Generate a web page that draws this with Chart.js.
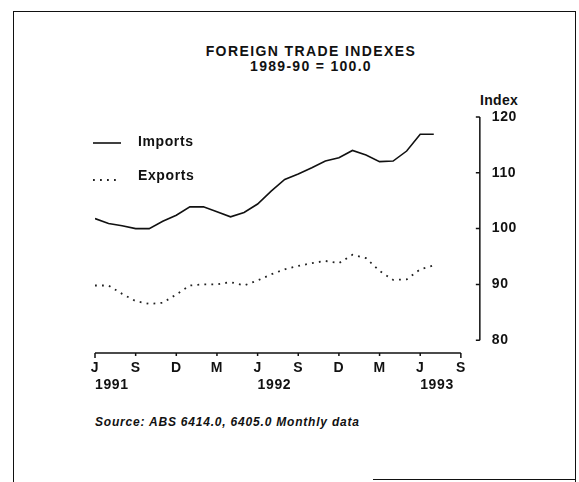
<!DOCTYPE html>
<html lang="en">
<head>
    <meta charset="UTF-8">
    <title>Foreign Trade Indexes</title>
    <script src="https://cdn.jsdelivr.net/npm/chart.js@4"></script>
    <style>
        body { margin: 0; background: #fff; }
        .frame {
            position: relative;
            width: 579px;
            height: 482px;
            overflow: hidden;
            font-family: "Liberation Sans", Arial, sans-serif;
            color: #111;
        }
        .frame canvas { position: absolute; left: 0; top: 0; }
        /* scanned box round the chart, bottom edge only partly there */
        .box {
            position: absolute;
            left: 13px; top: 11px;
            width: 561px; height: 480px;
            border: 1.5px solid #111;
            border-bottom: none;
        }
        .box-bottom {
            position: absolute;
            left: 373px; top: 479px;
            width: 203px;
            border-top: 1.5px solid #111;
        }
        .txt { position: absolute; font-weight: bold; white-space: nowrap; line-height: 16px; }
        .title { left: 0; width: 622px; text-align: center; font-size: 14px; letter-spacing: 1.4px; }
        .index { left: 480px; top: 92px; font-size: 14px; letter-spacing: 0.3px; }
        .source { left: 95px; top: 414px; font-size: 12px; font-style: italic; letter-spacing: 0.8px; }
    </style>
</head>
<body>
<div class="frame">
    <div class="box"></div>
    <div class="box-bottom"></div>
    <div class="txt title" style="top: 43px;">FOREIGN TRADE INDEXES</div>
    <div class="txt title" style="top: 58px; letter-spacing: 1.3px;">1989-90 = 100.0</div>
    <div class="txt index">Index</div>
    <div class="txt source">Source: ABS 6414.0, 6405.0 Monthly data</div>
    <canvas id="tradeChart" width="579" height="482"></canvas>
</div>

<script>
    // monthly, June 1991 to July 1993
    const months = [
        'Jun 1991', 'Jul 1991', 'Aug 1991', 'Sep 1991', 'Oct 1991', 'Nov 1991', 'Dec 1991',
        'Jan 1992', 'Feb 1992', 'Mar 1992', 'Apr 1992', 'May 1992', 'Jun 1992',
        'Jul 1992', 'Aug 1992', 'Sep 1992', 'Oct 1992', 'Nov 1992', 'Dec 1992',
        'Jan 1993', 'Feb 1993', 'Mar 1993', 'Apr 1993', 'May 1993', 'Jun 1993', 'Jul 1993'
    ];
    const imports = [
        101.8, 100.9, 100.5, 100.0, 100.0, 101.3, 102.4,
        103.9, 103.9, 103.0, 102.1, 102.9, 104.4,
        106.7, 108.8, 109.8, 110.9, 112.1, 112.7,
        114.0, 113.2, 112.0, 112.1, 113.9, 116.9, 116.9
    ];
    const exportsIdx = [
        89.8, 89.8, 88.3, 87.0, 86.5, 86.7, 88.2,
        89.8, 90.0, 90.0, 90.4, 89.8, 90.7,
        91.8, 92.7, 93.3, 93.8, 94.2, 93.8,
        95.3, 94.7, 92.4, 90.8, 90.9, 92.7, 93.4
    ];

    // axis ticks: month offsets from June 1991
    const xTickMonths = [0, 3, 6, 9, 12, 15, 18, 21, 24, 27];
    const xTickLabels = ['J', 'S', 'D', 'M', 'J', 'S', 'D', 'M', 'J', 'S'];
    const yearMonths = [0, 12, 24];
    const yearLabels = ['1991', '1992', '1993'];
    const yTicks = [80, 90, 100, 110, 120];

    const ink = '#111';
    const font = { family: '"Liberation Sans", Arial, sans-serif', size: 14, weight: 'bold', lineHeight: 1 };
    Chart.defaults.color = ink;

    function toPoints(values) {
        return values.map((v, i) => ({ x: i, y: v }));
    }

    // scanned lettering is a bit wide, spread it out a little
    const spacing = {
        id: 'spacing',
        beforeLayout(chart) { chart.ctx.letterSpacing = '0.6px'; },
        beforeDraw(chart) { chart.ctx.letterSpacing = '0.6px'; }
    };

    // axis lines stop at the end ticks, y axis sits off to the right
    const axisLines = {
        id: 'axisLines',
        afterDraw(chart) {
            const { ctx, chartArea, scales: { x, y } } = chart;
            const xb = chartArea.bottom;
            const yr = chartArea.right;
            ctx.save();
            ctx.strokeStyle = ink;
            ctx.lineWidth = 1.5;
            ctx.beginPath();
            ctx.moveTo(x.getPixelForValue(xTickMonths[0]), xb);
            ctx.lineTo(x.getPixelForValue(xTickMonths[xTickMonths.length - 1]), xb);
            xTickMonths.forEach((m, i) => {
                const px = x.getPixelForValue(m);
                const len = (i === 0 || i === xTickMonths.length - 1) ? 5 : 3;
                ctx.moveTo(px, xb);
                ctx.lineTo(px, xb + len);
            });
            ctx.moveTo(yr, y.getPixelForValue(yTicks[0]));
            ctx.lineTo(yr, y.getPixelForValue(yTicks[yTicks.length - 1]));
            yTicks.forEach(v => {
                const py = y.getPixelForValue(v);
                ctx.moveTo(yr, py);
                ctx.lineTo(yr - 4, py);
            });
            ctx.stroke();
            ctx.restore();
        }
    };

    // legend sits inside the plot, top left
    const legendRows = [142, 176];
    const insideLegend = {
        id: 'insideLegend',
        afterDraw(chart) {
            const ctx = chart.ctx;
            chart.data.datasets.forEach((ds, i) => {
                const ly = legendRows[i];
                ctx.save();
                ctx.strokeStyle = ds.borderColor;
                ctx.lineWidth = ds.borderWidth;
                ctx.setLineDash(ds.borderDash || []);
                ctx.beginPath();
                ctx.moveTo(93, ly + 1 + i * 3);
                ctx.lineTo(121, ly + 1 + i * 3);
                ctx.stroke();
                ctx.setLineDash([]);
                ctx.fillStyle = ink;
                ctx.font = 'bold 14px "Liberation Sans", Arial, sans-serif';
                ctx.textBaseline = 'middle';
                ctx.fillText(ds.label, 138, ly);
                ctx.restore();
            });
        }
    };

    // invisible grid, only there so tickLength spaces the labels
    const hiddenGrid = tl => ({ display: true, drawOnChartArea: false, drawTicks: true, tickLength: tl, color: 'rgba(0,0,0,0)' });

    new Chart(document.getElementById('tradeChart'), {
        type: 'line',
        data: {
            datasets: [
                {
                    label: 'Imports',
                    data: toPoints(imports),
                    borderColor: ink,
                    borderWidth: 1.6,
                    pointRadius: 0,
                    tension: 0
                },
                {
                    label: 'Exports',
                    data: toPoints(exportsIdx),
                    borderColor: '#222',
                    borderWidth: 1.8,
                    borderDash: [1.8, 5.2],
                    pointRadius: 0,
                    tension: 0
                }
            ]
        },
        options: {
            responsive: false,
            animation: false,
            events: [],
            layout: { padding: { left: 95, right: 50, top: 117, bottom: 90 } },
            plugins: {
                legend: { display: false },
                tooltip: { enabled: false }
            },
            scales: {
                x: {
                    type: 'linear',
                    min: 0,
                    max: 28.4,
                    weight: 0,
                    grid: hiddenGrid(9),
                    border: { display: false },
                    afterBuildTicks: s => { s.ticks = xTickMonths.map(v => ({ value: v })); },
                    ticks: {
                        padding: -1,
                        maxRotation: 0,
                        autoSkip: false,
                        font: font,
                        callback: (v, i) => xTickLabels[i]
                    }
                },
                years: {
                    type: 'linear',
                    position: 'bottom',
                    min: 0,
                    max: 28.4,
                    weight: 1,
                    grid: hiddenGrid(4),
                    border: { display: false },
                    afterBuildTicks: s => { s.ticks = yearMonths.map(v => ({ value: v })); },
                    ticks: {
                        padding: 0,
                        align: 'start',
                        maxRotation: 0,
                        autoSkip: false,
                        font: font,
                        callback: (v, i) => yearLabels[i]
                    }
                },
                y: {
                    position: 'right',
                    min: 77.7,
                    max: 120,
                    grid: { display: false, drawTicks: false },
                    border: { display: false },
                    afterBuildTicks: s => { s.ticks = yTicks.map(v => ({ value: v })); },
                    ticks: {
                        padding: 12,
                        font: font,
                        callback: v => String(v)
                    }
                }
            }
        },
        plugins: [spacing, axisLines, insideLegend]
    });
</script>
</body>
</html>
